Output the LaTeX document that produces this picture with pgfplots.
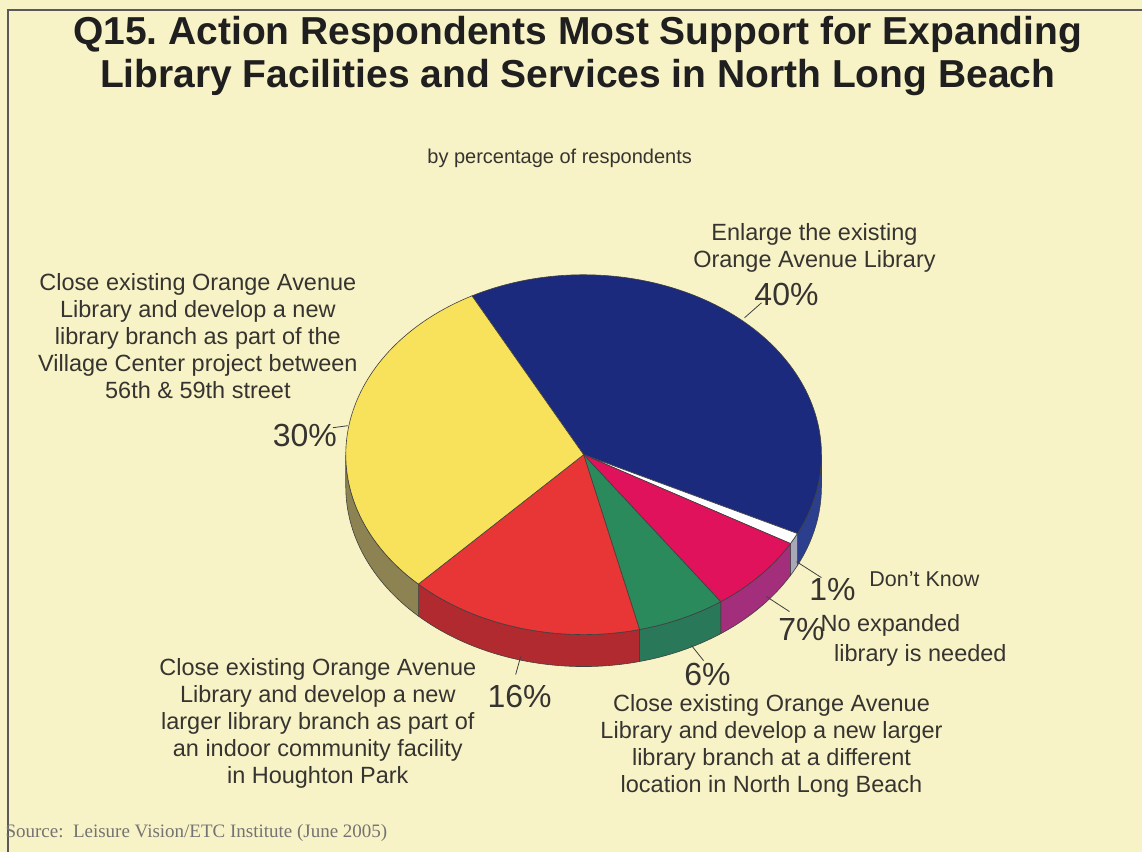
\documentclass[border=0pt]{standalone}
\usepackage{fontspec}
\setmainfont{Liberation Sans}
\newfontfamily\srcfont{Liberation Serif}
\usepackage{pgfplots}
\usepackage{pgfplotstable}
\pgfplotsset{compat=1.18}
\frenchspacing
\definecolor{bg}{HTML}{F8F3C6}
\definecolor{txt}{HTML}{363430}
\definecolor{c0}{HTML}{1B2A7C}\definecolor{s0}{HTML}{2B3F8E}
\definecolor{c1}{HTML}{FFFFFF}\definecolor{s1}{HTML}{A8A8B8}
\definecolor{c2}{HTML}{E0125C}\definecolor{s2}{HTML}{A22E7C}
\definecolor{c3}{HTML}{2A8A5C}\definecolor{s3}{HTML}{2A785A}
\definecolor{c4}{HTML}{E83636}\definecolor{s4}{HTML}{B02A30}
\definecolor{c5}{HTML}{F8E25C}\definecolor{s5}{HTML}{8C8252}
\pgfplotstableread{
name value
Enlarge 40
DontKnow 1
NoExpanded 7
Different 6
Houghton 16
Village 30
}\piedata
\newcommand\drawside[1]{\edef\tmp{\noexpand\fill[s#1, draw=black!75, line width=0.6pt] (axis cs:584,398) ++(\csname wA#1\endcsname:238pt and 180pt) arc[start angle=\csname wA#1\endcsname, end angle=\csname wB#1\endcsname, x radius=238pt, y radius=180pt] -- ++(0pt,-32pt) arc[start angle=\csname wB#1\endcsname, end angle=\csname wA#1\endcsname, x radius=238pt, y radius=180pt] -- cycle;}\tmp}
\newcommand\drawtop[1]{\edef\tmp{\noexpand\fill[c#1, draw=black!75, line width=0.6pt] (axis cs:584,398) -- ++(\csname sA#1\endcsname:238pt and 180pt) arc[start angle=\csname sA#1\endcsname, end angle=\csname sB#1\endcsname, x radius=238pt, y radius=180pt] -- cycle;}\tmp}
\begin{document}
\begin{tikzpicture}
\def\cum{118}
\pgfplotsforeachungrouped \i in {0,...,5}{%
  \pgfplotstablegetelem{\i}{value}\of\piedata
  \let\v\pgfplotsretval
  \expandafter\xdef\csname sA\i\endcsname{\cum}%
  \pgfmathsetmacro\wA{min(\cum,0)}%
  \pgfmathsetmacro\cum{\cum-3.6*\v}%
  \expandafter\xdef\csname sB\i\endcsname{\cum}%
  \pgfmathsetmacro\wB{max(\cum,-180)}%
  \expandafter\xdef\csname wA\i\endcsname{\wA}%
  \expandafter\xdef\csname wB\i\endcsname{\wB}%
}
\begin{axis}[
  hide axis, scale only axis, clip=false,
  width=1143pt, height=853pt,
  xmin=0, xmax=1143, ymin=0, ymax=853,
]
\fill[bg] (axis cs:0,0) rectangle (axis cs:1143,853);
\draw[black!65, line width=1.5pt] (axis cs:8,0) -- (axis cs:8,843) -- (axis cs:1143,843);
% sides
\pgfplotsinvokeforeach{0,...,5}{\drawside{#1}}
% tops
\pgfplotsinvokeforeach{0,...,5}{\drawtop{#1}}
% title
\node[font=\fontsize{39}{43}\selectfont\bfseries, text=black!88, align=center] at (axis cs:578,797) {Q15. Action Respondents Most Support for Expanding\\Library Facilities and Services in North Long Beach};
\node[font=\fontsize{20}{22}\selectfont, text=txt] at (axis cs:560,695) {by percentage of respondents};
% labels
\begin{scope}[every node/.style={text=txt, align=center, inner sep=1pt, font=\fontsize{23.5}{27}\selectfont}]
\node at (axis cs:815,605) {Enlarge the existing\\Orange Avenue Library};
\node[font=\fontsize{32}{32}\selectfont] at (axis cs:787,558) {40\%};
\node at (axis cs:198,517) {Close existing Orange Avenue\\Library and develop a new\\library branch as part of the\\Village Center project between\\56th \& 59th street};
\node[font=\fontsize{32}{32}\selectfont] at (axis cs:305,417) {30\%};
\node[font=\fontsize{32}{32}\selectfont] at (axis cs:833,263) {1\%};
\node[font=\fontsize{21.5}{24}\selectfont] at (axis cs:925,273) {Don't Know};
\node[font=\fontsize{32}{32}\selectfont] at (axis cs:802,223) {7\%};
\node at (axis cs:891,227) {No expanded};
\node at (axis cs:921,197) {library is needed};
\node[font=\fontsize{32}{32}\selectfont] at (axis cs:708,178) {6\%};
\node at (axis cs:772,107) {Close existing Orange Avenue\\Library and develop a new larger\\library branch at a different\\location in North Long Beach};
\node[font=\fontsize{32}{32}\selectfont] at (axis cs:520,156) {16\%};
\node at (axis cs:318,129) {Close existing Orange Avenue\\Library and develop a new\\larger library branch as part of\\an indoor community facility\\in Houghton Park};
\end{scope}
% leaders
\begin{scope}[black!75, line width=0.8pt]
\draw (axis cs:745,535) -- (axis cs:762,550);
\draw (axis cs:333,425) -- (axis cs:348,427);
\draw (axis cs:797,291) -- (axis cs:822,275);
\draw (axis cs:767,256) -- (axis cs:790,241);
\draw (axis cs:692,207) -- (axis cs:704,192);
\draw (axis cs:521,196) -- (axis cs:516,178);
\end{scope}
\node[anchor=west, font=\srcfont\fontsize{19}{21}\selectfont, text=black!55] at (axis cs:2,20) {Source:\ \ Leisure Vision/ETC Institute (June 2005)};
\end{axis}
\end{tikzpicture}
\end{document}
